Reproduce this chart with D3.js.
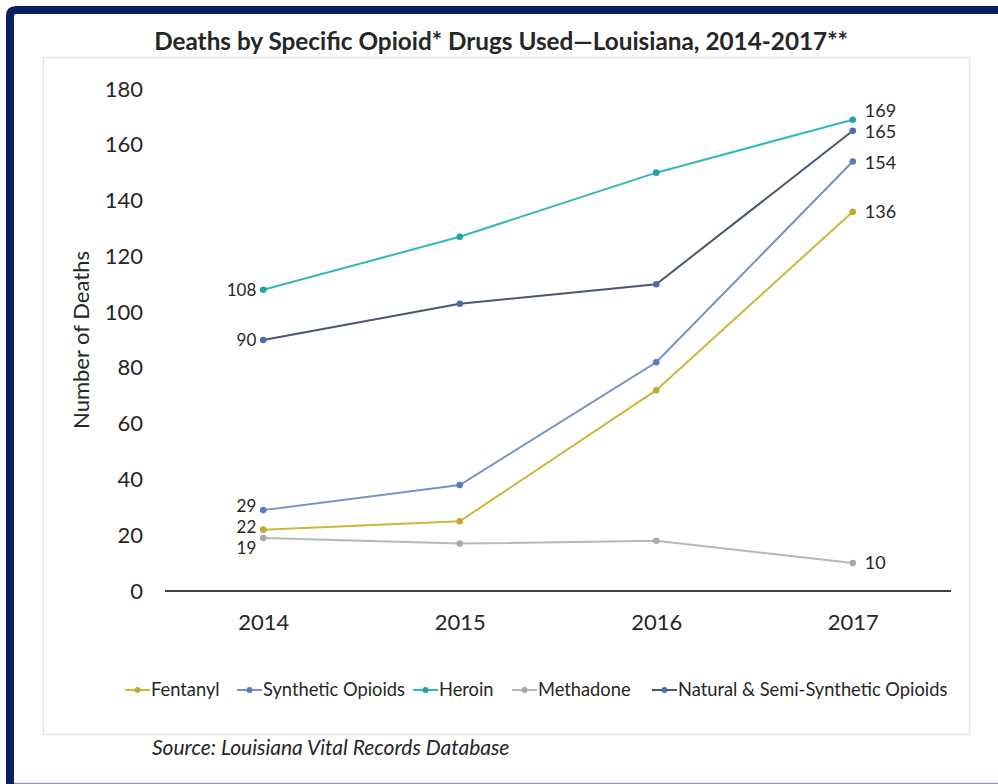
<!DOCTYPE html>
<html>
<head>
<meta charset="utf-8">
<script src="https://cdn.jsdelivr.net/npm/d3@7"></script>
<style>
  html, body { margin: 0; padding: 0; background: #fff; }
  svg { display: block; }
  text { font-family: Lato, "Open Sans", sans-serif; fill: #262626; }
</style>
</head>
<body>
<svg id="chart" width="998" height="784"></svg>
<script>
// Deaths by specific opioid drug, Louisiana 2014-2017
const years = ["2014", "2015", "2016", "2017"];
const fentanyl   = [22, 25, 72, 136];
const synthetic  = [29, 38, 82, 154];
const heroin     = [108, 127, 150, 169];
const methadone  = [19, 17, 18, 10];
const natural    = [90, 103, 110, 165];
const yTicks = [0, 20, 40, 60, 80, 100, 120, 140, 160, 180];

const seriesNames = ["Fentanyl", "Synthetic Opioids", "Heroin", "Methadone", "Natural & Semi-Synthetic Opioids"];
const seriesValues = [fentanyl, synthetic, heroin, methadone, natural];
const lineColors   = ["#cdb63c", "#7791c9", "#35b8bb", "#b8b8b8", "#4b5670"];
const markerColors = ["#c2a92a", "#5a7bbd", "#1fa3a6", "#a9a9a9", "#4c6cb0"];

const series = seriesNames.map((name, i) => ({
  name, values: seriesValues[i], line: lineColors[i], marker: markerColors[i]
}));

const svg = d3.select("#chart");

// navy frame around the panel
svg.append("path")
  .attr("d", "M10,784 L10,16 Q10,10 16,10 L998,10")
  .attr("fill", "none").attr("stroke", "#0b1f5c").attr("stroke-width", 8);
svg.append("line").attr("x1", 14).attr("x2", 998).attr("y1", 783.5).attr("y2", 783.5)
  .attr("stroke", "#8e98b5").attr("stroke-width", 1.5);

// chart area outline
svg.append("rect").attr("x", 43.5).attr("y", 57.5).attr("width", 926).attr("height", 677)
  .attr("fill", "#fff").attr("stroke", "#e6e6e6").attr("stroke-width", 1.5);

// title
svg.append("text").attr("x", 501).attr("y", 50).attr("text-anchor", "middle")
  .attr("font-size", 24.3).attr("font-weight", "bold").attr("fill", "#111")
  .text("Deaths by Specific Opioid* Drugs Used\u2014Louisiana, 2014-2017**");

const x = d3.scalePoint().domain(years).range([165, 951]).padding(0.5);
const y = d3.scaleLinear().domain([0, 180]).range([591, 89]);

// y axis (labels only)
const yAxis = svg.append("g").attr("transform", "translate(152,0)")
  .call(d3.axisLeft(y).tickValues(yTicks).tickSize(0).tickPadding(0));
yAxis.select(".domain").remove();
yAxis.selectAll("text").attr("font-size", 22).attr("fill", "#333")
  .attr("font-family", "Lato, 'Open Sans', sans-serif").attr("dx", -9);

// x axis
const xAxis = svg.append("g").attr("transform", `translate(0,${y(0)})`)
  .call(d3.axisBottom(x).tickSize(0).tickPadding(23));
xAxis.select(".domain").attr("stroke", "#404040").attr("stroke-width", 2)
  .attr("d", "M165,0H951");
xAxis.selectAll("text").attr("font-size", 22).attr("fill", "#333")
  .attr("font-family", "Lato, 'Open Sans', sans-serif");

// y axis title
svg.append("text").attr("transform", `translate(89,${y(90)}) rotate(-90)`)
  .attr("text-anchor", "middle").attr("font-size", 22).attr("fill", "#333")
  .text("Number of Deaths");

// lines and markers
const line = d3.line().x((d, i) => x(years[i])).y(d => y(d));
const g = svg.append("g");
series.forEach(s => {
  g.append("path").datum(s.values).attr("d", line)
    .attr("fill", "none").attr("stroke", s.line).attr("stroke-width", 2);
});
series.forEach(s => {
  g.selectAll(null).data(s.values).enter().append("circle")
    .attr("cx", (d, i) => x(years[i])).attr("cy", d => y(d))
    .attr("r", 3.3).attr("fill", s.marker);
});

// data labels at the first and last year; small vertical nudges keep close values apart
const firstNudge = [-3, -4, 0, 10, 0];
const lastNudge  = [0, 1, -9, 0, 1];
series.forEach((s, i) => {
  svg.append("text").attr("x", x(years[0]) - 7).attr("y", y(s.values[0]) + firstNudge[i])
    .attr("dy", "0.35em").attr("text-anchor", "end").attr("font-size", 17).attr("fill", "#333")
    .text(s.values[0]);
  svg.append("text").attr("x", x(years[3]) + 12).attr("y", y(s.values[3]) + lastNudge[i])
    .attr("dy", "0.35em").attr("text-anchor", "start").attr("font-size", 18).attr("fill", "#333")
    .text(s.values[3]);
});

// legend
const legendX = [125, 237, 413, 512, 652];
const legend = svg.append("g").attr("transform", "translate(0,690)");
series.forEach((s, i) => {
  const lg = legend.append("g").attr("transform", `translate(${legendX[i]},0)`);
  lg.append("line").attr("x1", 0).attr("x2", 25).attr("y1", 0).attr("y2", 0)
    .attr("stroke", s.line).attr("stroke-width", 2);
  lg.append("circle").attr("cx", 12.5).attr("cy", 0).attr("r", 3).attr("fill", s.marker);
  lg.append("text").attr("x", 26).attr("y", 0).attr("dy", "0.35em")
    .attr("font-size", 18.3).attr("fill", "#333").text(s.name);
});

// source note
svg.append("text").attr("x", 152).attr("y", 755).attr("font-size", 21).attr("font-style", "italic")
  .attr("fill", "#222").text("Source: Louisiana Vital Records Database");
</script>
</body>
</html>
